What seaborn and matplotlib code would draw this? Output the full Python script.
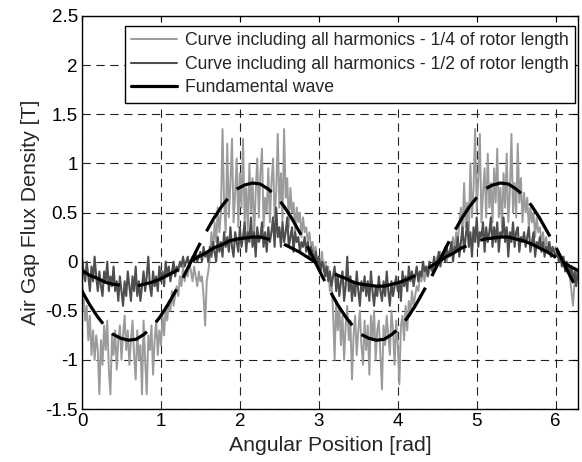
import numpy as np
import pandas as pd
import matplotlib
matplotlib.use("Agg")
import matplotlib.pyplot as plt
from matplotlib.ticker import FormatStrFormatter
import seaborn as sns

# ---- data ----
quarter_len = [
    -0.20, -0.35, -0.60, -0.45, -0.80, -0.55, -0.95, -0.70, -1.00, -0.75, -0.90, -1.35, -0.80, -1.05, -0.65, -0.90, -0.60, -1.10, -1.35, -0.75,
    -0.95, -0.70, -1.10, -0.80, -0.65, -1.00, -0.75, -0.55, -0.90, -0.70, -1.05, -0.80, -0.60, -0.95, -1.20, -0.70, -1.00, -0.85, -1.35, -0.60,
    -1.00, -1.35, -0.75, -0.90, -0.65, -1.15, -0.80, -0.60, -0.95, -0.70, -0.85, -0.55, -0.75, -0.45, -0.60, -0.40, -0.50, -0.30, -0.45, -0.35,
    -0.25, -0.35, -0.15, -0.25, -0.05, -0.20, -0.10, -0.15, 0.00, -0.10, -0.20, -0.05, -0.15, -0.25, -0.10, -0.20, -0.15, -0.35, -0.65, -0.20,
    -0.10, 0.05, 0.30, 0.10, 0.40, 0.20, 0.55, 0.30, 0.50, 1.35, 0.60, 0.30, 1.20, 0.45, 0.80, 1.25, 0.40, 0.70, 1.05, 0.35,
    0.90, 0.55, 1.25, 0.40, 0.75, 0.30, 1.00, 0.50, 0.85, 0.25, 0.70, 1.05, 0.45, 0.90, 1.15, 0.35, 0.65, 0.50, 0.95, 0.40,
    0.80, 1.05, 0.45, 0.70, 1.30, 0.55, 0.90, 0.40, 1.35, 0.65, 0.85, 0.35, 0.75, 0.50, 0.60, 0.30, 0.55, 0.40, 0.50, 0.25,
    0.45, 0.30, 0.35, 0.20, 0.30, 0.15, 0.20, 0.10, 0.15, 0.00, 0.05, -0.05, 0.10, -0.10, 0.00, -0.15, -0.05, -0.30, -0.20, -0.50,
    -1.00, -0.40, -0.70, -0.45, -0.85, -0.55, -1.00, -0.65, -0.45, -0.80, -0.60, -1.20, -0.75, -0.55, -0.95, -0.70, -0.50, -0.85, -1.05, -0.60,
    -0.90, -0.65, -1.15, -0.55, -0.80, -0.50, -1.00, -0.70, -0.60, -0.95, -1.30, -0.65, -0.85, -0.55, -0.75, -0.95, -0.50, -0.70, -1.05, -0.60,
    -0.85, -1.25, -0.65, -0.55, -0.80, -0.45, -0.70, -0.40, -0.55, -0.30, -0.45, -0.35, -0.25, -0.30, -0.15, -0.20, -0.10, -0.20, -0.05, -0.15,
    -0.10, -0.05, -0.10, 0.00, -0.05, 0.05, 0.00, 0.10, 0.00, 0.05, 0.15, 0.00, 0.10, 0.05, 0.15, 0.25, 0.10, 0.30, 0.20, 0.40,
    0.55, 0.25, 0.80, 0.35, 0.60, 0.30, 1.00, 0.45, 0.75, 1.35, 0.50, 0.85, 1.30, 0.40, 0.70, 0.95, 0.45, 1.10, 0.55, 0.80,
    0.40, 0.95, 0.60, 1.15, 0.45, 0.75, 0.35, 0.90, 0.55, 1.10, 0.40, 0.70, 1.30, 0.50, 0.80, 0.45, 1.20, 0.60, 0.85, 0.40,
    0.70, 0.50, 0.65, 0.35, 0.55, 0.40, 0.50, 0.25, 0.45, 0.30, 0.35, 0.20, 0.30, 0.15, 0.25, 0.10, 0.20, 0.05, 0.15, 0.10,
    0.15, 0.05, 0.10, 0.00, 0.05, -0.05, 0.00, -0.10, -0.05, -0.15, -0.30, -0.45, -0.20, -0.10, -0.15,
]
half_len = [
    0.05, -0.10, -0.20, 0.00, -0.15, -0.30, -0.05, -0.20, 0.05, -0.15, -0.30, -0.10, -0.25, -0.35, -0.10, -0.20, 0.00, -0.30, -0.15, -0.25,
    -0.05, -0.30, -0.20, -0.40, -0.15, -0.30, -0.45, -0.20, -0.35, -0.10, -0.25, -0.40, -0.15, -0.30, -0.05, -0.35, -0.20, -0.40, -0.25, -0.10,
    -0.30, -0.15, 0.05, -0.25, -0.35, -0.10, -0.25, -0.15, -0.30, -0.05, -0.20, -0.10, -0.25, 0.00, -0.15, -0.05, -0.20, -0.10, 0.00, -0.15,
    -0.05, -0.10, 0.00, -0.05, 0.05, -0.05, 0.00, 0.05, -0.05, 0.00, 0.05, 0.00, 0.10, 0.00, 0.05, 0.10, 0.00, 0.15, 0.05, 0.10,
    0.00, 0.15, 0.05, 0.20, 0.10, 0.00, 0.25, 0.10, 0.20, 0.05, 0.30, 0.15, 0.25, 0.10, 0.35, 0.15, 0.05, 0.30, 0.20, 0.10,
    0.35, 0.15, 0.25, 0.40, 0.10, 0.30, 0.20, 0.45, 0.15, 0.30, 0.05, 0.35, 0.20, 0.25, 0.40, 0.15, 0.30, 0.10, 0.35, 0.20,
    0.30, 0.45, 0.15, 0.55, 0.25, 0.35, 0.15, 0.40, 0.20, 0.30, 0.45, 0.15, 0.25, 0.35, 0.10, 0.30, 0.20, 0.25, 0.10, 0.20,
    0.15, 0.25, 0.10, 0.20, 0.05, 0.15, 0.10, 0.00, 0.10, -0.05, 0.05, -0.10, 0.00, -0.05, -0.15, -0.05, -0.20, -0.10, -0.25, -0.15,
    -0.05, -0.30, -0.15, -0.35, -0.20, -0.10, -0.40, -0.25, 0.05, -0.30, -0.15, -0.40, -0.20, -0.35, -0.10, -0.30, -0.45, -0.20, -0.30, -0.15,
    -0.35, -0.20, -0.40, -0.10, -0.30, -0.45, -0.25, -0.35, -0.15, -0.30, -0.40, -0.20, -0.35, -0.10, -0.30, -0.45, -0.20, -0.35, -0.25, -0.15,
    -0.30, -0.20, -0.40, -0.10, -0.25, -0.15, -0.30, -0.05, -0.20, -0.10, -0.25, -0.15, -0.05, -0.20, -0.10, -0.15, 0.00, -0.10, -0.05, -0.15,
    0.00, -0.05, -0.10, 0.05, -0.05, 0.00, 0.10, -0.05, 0.05, 0.10, 0.00, 0.15, 0.05, 0.10, 0.20, 0.00, 0.15, 0.10, 0.25, 0.05,
    0.20, 0.35, 0.10, 0.25, 0.40, 0.15, 0.30, 0.05, 0.35, 0.20, 0.45, 0.15, 0.30, 0.25, 0.40, 0.10, 0.35, 0.20, 0.30, 0.45,
    0.15, 0.35, 0.20, 0.40, 0.10, 0.30, 0.25, 0.45, 0.20, 0.35, 0.05, 0.30, 0.20, 0.40, 0.15, 0.30, 0.35, 0.10, 0.25, 0.20,
    0.30, 0.15, 0.25, 0.35, 0.10, 0.20, 0.30, 0.05, 0.20, 0.15, 0.25, 0.10, 0.20, 0.05, 0.15, 0.10, 0.20, 0.05, 0.15, 0.10,
    0.05, 0.10, 0.00, 0.05, -0.05, 0.05, -0.10, 0.00, -0.05, -0.15, -0.05, -0.20, -0.10, -0.25, -0.10,
]
fund_half = [
    -0.09, -0.14, -0.17, -0.21, -0.23, -0.24, -0.25, -0.25, -0.23, -0.21, -0.18, -0.14, -0.10, -0.05, 0.00, 0.05,
    0.09, 0.14, 0.17, 0.21, 0.23, 0.24, 0.25, 0.25, 0.23, 0.21, 0.18, 0.14, 0.10, 0.05, 0.00, -0.05,
    -0.09, -0.14, -0.17, -0.21, -0.23, -0.24, -0.25, -0.25, -0.23, -0.21, -0.18, -0.14, -0.10, -0.05, 0.00, 0.05,
    0.09, 0.14, 0.17, 0.21, 0.23, 0.24, 0.25, 0.25, 0.23, 0.21, 0.18, 0.14, 0.10, 0.05, 0.00, -0.05,
    -0.09,
]
fund_quarter = [
    -0.30, -0.44, -0.56, -0.66, -0.74, -0.78, -0.80, -0.79, -0.74, -0.67, -0.57, -0.45, -0.31, -0.17, -0.01, 0.15,
    0.30, 0.44, 0.56, 0.66, 0.74, 0.78, 0.80, 0.79, 0.74, 0.67, 0.57, 0.45, 0.31, 0.17, 0.01, -0.15,
    -0.30, -0.44, -0.56, -0.66, -0.74, -0.78, -0.80, -0.79, -0.74, -0.67, -0.57, -0.45, -0.31, -0.17, -0.01, 0.15,
    0.30, 0.44, 0.56, 0.66, 0.74, 0.78, 0.80, 0.79, 0.74, 0.67, 0.57, 0.45, 0.31, 0.17, 0.01, -0.15,
    -0.30,
]
legend_labels = [
    "Curve including all harmonics - 1/4 of rotor length",
    "Curve including all harmonics - 1/2 of rotor length",
    "Fundamental wave",
]
x_ticks = [0, 1, 2, 3, 4, 5, 6]
y_ticks = [-1.5, -1, -0.5, 0, 0.5, 1, 1.5, 2, 2.5]

# ---- tables ----
ang_noisy = np.linspace(0.0, 6.28, len(quarter_len))
ang_fund = np.linspace(0.0, 2 * np.pi, len(fund_half))
df_q = pd.DataFrame({"x": ang_noisy, "y": quarter_len})
df_h = pd.DataFrame({"x": ang_noisy, "y": half_len})
df_fh = pd.DataFrame({"x": ang_fund, "y": fund_half})
df_fq = pd.DataFrame({"x": ang_fund, "y": fund_quarter})

sns.set_style("white")
plt.rcParams["font.family"] = ["Liberation Sans", "DejaVu Sans"]
plt.rcParams["axes.unicode_minus"] = False
plt.rcParams["lines.scale_dashes"] = False

fig = plt.figure(figsize=(5.82, 4.62), dpi=100)
ax = fig.add_axes([82 / 582, 53 / 462, 496 / 582, 393 / 462])

light = "#9b9b9b"
dark = "#4e4e4e"
sns.lineplot(data=df_q, x="x", y="y", ax=ax, color=light, linewidth=1.4,
             label=legend_labels[0], estimator=None, sort=False)
sns.lineplot(data=df_h, x="x", y="y", ax=ax, color=dark, linewidth=1.5,
             label=legend_labels[1], estimator=None, sort=False)
sns.lineplot(data=df_fh, x="x", y="y", ax=ax, color="black", linewidth=2.3,
             label=legend_labels[2], estimator=None, sort=False)
ax.lines[-1].set_linestyle((0, (29.5, 13, 31.7, 10.8, 61, 10.8, 27.4, 15,
                                61, 10.8, 31.7, 10.8, 58, 7.2, 40, 10)))
sns.lineplot(data=df_fq, x="x", y="y", ax=ax, color="black", linewidth=2.3,
             estimator=None, sort=False, legend=False)
ax.lines[-1].set_linestyle((0, (28, 9.5)))

ax.set_xlim(0, 2 * np.pi)
ax.set_ylim(-1.5, 2.5)
ax.set_xticks(x_ticks)
ax.set_yticks(y_ticks)
ax.yaxis.set_major_formatter(FormatStrFormatter("%g"))
ax.xaxis.set_major_formatter(FormatStrFormatter("%g"))
ax.grid(True, color="#222222", linestyle=(0, (6, 4)), linewidth=0.8)
ax.tick_params(direction="in", length=4, width=0.8, top=True, right=True,
               labelsize=13.5, colors="black", pad=3)
for s in ax.spines.values():
    s.set_color("black")
    s.set_linewidth(1.0)
    s.set_visible(True)

ax.set_xlabel("Angular Position [rad]", fontsize=15.3, labelpad=4.5)
ax.set_ylabel("Air Gap Flux Density [T]", fontsize=15.3, labelpad=4)

leg = ax.legend(loc="upper right", bbox_to_anchor=(0.994, 0.975), borderaxespad=0,
                fontsize=12.7, frameon=True, fancybox=False, framealpha=1,
                edgecolor="black", handlelength=2.6, handletextpad=0.45,
                labelspacing=0.38, borderpad=0.35)
leg.get_frame().set_linewidth(1.0)
for h in leg.get_lines():
    h.set_linestyle("-")

fig.savefig("out.png", dpi=100)
